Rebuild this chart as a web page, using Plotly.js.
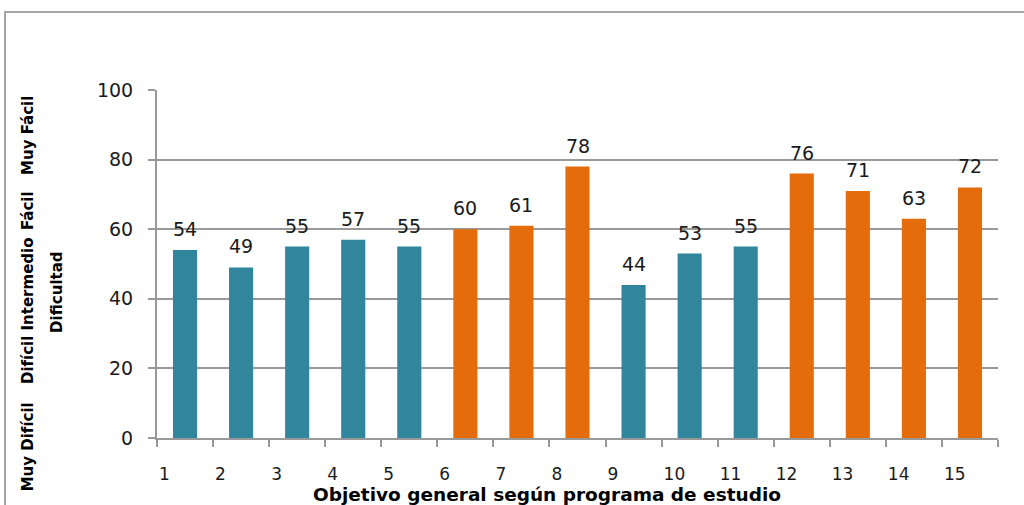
<!DOCTYPE html>
<html>
<head>
<meta charset="utf-8">
<script src="https://cdn.plot.ly/plotly-3.0.1.min.js"></script>
<style>
  html, body { margin: 0; padding: 0; background: #ffffff; overflow: hidden; }
  #frame { position: absolute; left: 4px; top: 11px; width: 1100px; height: 600px;
           border-left: 2px solid #a6a6a6; border-top: 2px solid #a6a6a6; box-sizing: border-box; }
  #chart { position: absolute; left: 0; top: 0; width: 1024px; height: 505px; }
</style>
</head>
<body>
<div id="frame"></div>
<div id="chart"></div>
<script>
// ---- data ----
const objetivos = [1, 2, 3, 4, 5, 6, 7, 8, 9, 10, 11, 12, 13, 14, 15];
const dificultad = [54, 49, 55, 57, 55, 60, 61, 78, 44, 53, 55, 76, 71, 63, 72];
const grupo = ['A', 'A', 'A', 'A', 'A', 'B', 'B', 'B', 'A', 'A', 'A', 'B', 'B', 'B', 'B'];
const tickLabels = ['1', '2', '3', '4', '5', '6', '7', '8', '9', '10', '11', '12', '13', '14', '15'];
const niveles = ['Muy Difícil', 'Difícil', 'Intermedio', 'Fácil', 'Muy Fácil'];
const xTitle = 'Objetivo general según programa de estudio';
const yTitle = 'Dificultad';

// ---- styling / placement ----
const colorMap = { A: '#31859C', B: '#E46C0A' };
const nivelPaperY = [-0.024, 0.224, 0.444, 0.655, 0.871];
const numFont = { family: 'DejaVu Sans, sans-serif', size: 19, color: '#1a1a1a' };
const boldFont = { family: 'DejaVu Sans, sans-serif', size: 15, color: '#000000', weight: 'bold' };

const trace = {
  type: 'bar',
  x: objetivos,
  y: dificultad,
  width: 0.43,
  marker: { color: grupo.map(g => colorMap[g]), line: { width: 0 } },
  hoverinfo: 'x+y'
};

const boundaries = objetivos.map(v => v - 0.5).concat([objetivos[objetivos.length - 1] + 0.5]);
const bText = tickLabels.concat(['']);

const annotations = [];
objetivos.forEach((xv, i) => {
  annotations.push({
    x: xv, y: dificultad[i], xref: 'x', yref: 'y',
    text: String(dificultad[i]), showarrow: false,
    yanchor: 'middle', yshift: 21, font: numFont
  });
});
niveles.forEach((t, i) => {
  annotations.push({
    x: -0.1534, xref: 'paper', y: nivelPaperY[i], yref: 'paper',
    text: t, showarrow: false, textangle: -90,
    xanchor: 'center', yanchor: 'middle', font: boldFont
  });
});
annotations.push({
  x: -0.1189, xref: 'paper', y: 0.417, yref: 'paper',
  text: yTitle, showarrow: false, textangle: -90,
  xanchor: 'center', yanchor: 'middle', font: boldFont
});
annotations.push({
  x: 0.4637, xref: 'paper', y: -0.162, yref: 'paper',
  text: xTitle, showarrow: false,
  xanchor: 'center', yanchor: 'middle', font: { ...boldFont, size: 18.5 }
});

const layout = {
  width: 1024, height: 505,
  margin: { l: 157, r: 26, t: 90, b: 67 },
  paper_bgcolor: 'rgba(0,0,0,0)',
  plot_bgcolor: 'rgba(0,0,0,0)',
  showlegend: false,
  xaxis: {
    range: [0.5, 15.5],
    tickmode: 'array', tickvals: boundaries, ticktext: bText,
    ticks: 'outside', ticklen: 7, tickwidth: 2, tickcolor: '#999999',
    ticklabelposition: 'outside right', ticklabelstandoff: 20,
    showline: true, linecolor: '#999999', linewidth: 2,
    showgrid: false, zeroline: false,
    tickfont: { family: 'DejaVu Sans, sans-serif', size: 17, color: '#1a1a1a' },
    fixedrange: true
  },
  yaxis: {
    range: [0, 100], dtick: 20, tick0: 0,
    ticks: 'outside', ticklen: 7, tickwidth: 2, tickcolor: '#999999',
    showline: true, linecolor: '#999999', linewidth: 2,
    showgrid: true, gridcolor: '#999999', gridwidth: 2,
    zeroline: false,
    tickfont: { family: 'DejaVu Sans, sans-serif', size: 19, color: '#1a1a1a' },
    ticklabelstandoff: 11,
    fixedrange: true
  },
  annotations: annotations
};

Plotly.newPlot('chart', [trace], layout, { displayModeBar: false, staticPlot: true });
</script>
</body>
</html>
